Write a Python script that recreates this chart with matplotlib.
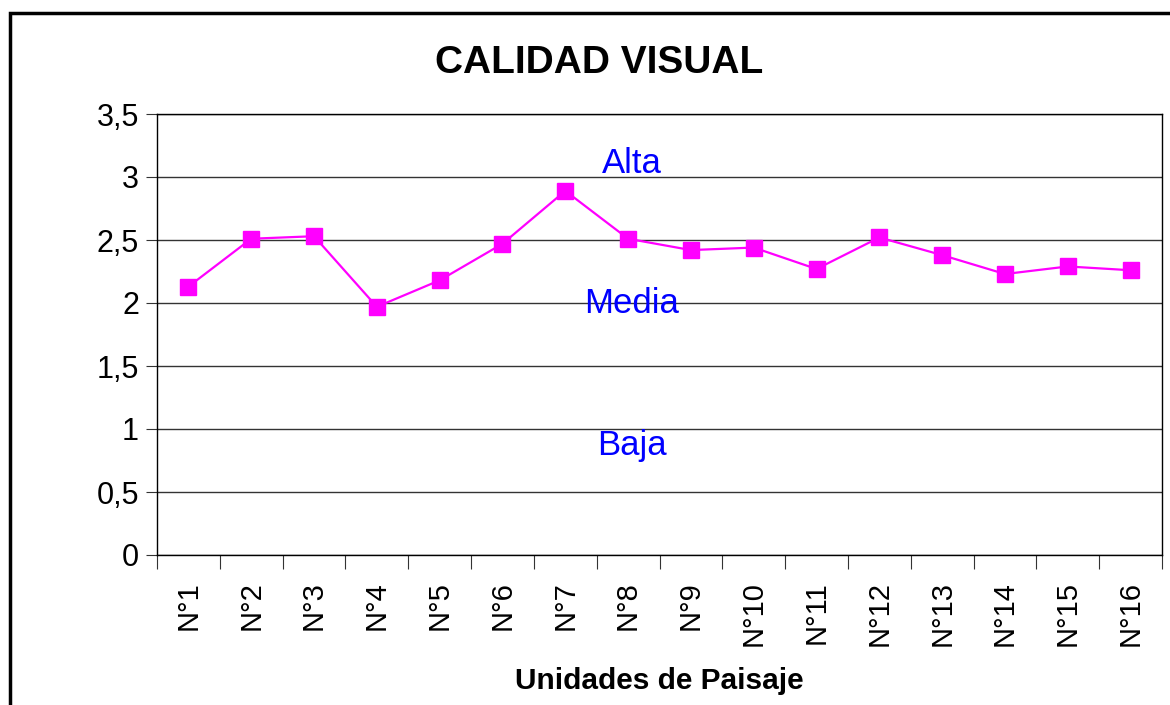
import matplotlib.pyplot as plt
from matplotlib.patches import Rectangle
from matplotlib.ticker import FuncFormatter

plt.rcParams['font.family'] = ['Liberation Sans', 'DejaVu Sans']

unidades = ['N°1', 'N°2', 'N°3', 'N°4', 'N°5', 'N°6', 'N°7', 'N°8',
            'N°9', 'N°10', 'N°11', 'N°12', 'N°13', 'N°14', 'N°15', 'N°16']
calidad = [2.13, 2.51, 2.53, 1.97, 2.18, 2.47, 2.89, 2.51,
           2.42, 2.44, 2.27, 2.52, 2.38, 2.23, 2.29, 2.26]
clases = ['Alta', 'Media', 'Baja']
clases_y = [3.03, 1.92, 0.79]

fig = plt.figure(figsize=(11.7, 7.05), dpi=100)
ax = fig.add_axes([157/1170, 1-555/705, (1162-157)/1170, (555-114)/705])

x = list(range(len(unidades)))
ax.plot(x, calidad, color='#FF00FF', lw=1.6, marker='s', markersize=11,
        markeredgecolor='#FF00FF', zorder=3)

ax.set_xlim(-0.5, len(unidades) - 0.5)
ax.set_ylim(0, 3.5)
ax.set_yticks([0, 0.5, 1, 1.5, 2, 2.5, 3, 3.5])
ax.yaxis.set_major_formatter(FuncFormatter(lambda v, p: ('%g' % v).replace('.', ',')))
ax.grid(axis='y', color='#333333', lw=1)
ax.set_axisbelow(True)

# category labels centred, ticks between categories
ax.set_xticks([i - 0.5 for i in range(len(unidades) + 1)])
ax.set_xticklabels([])
ax.set_xticks(x, minor=True)
ax.set_xticklabels(unidades, minor=True, rotation=90, fontsize=21)
ax.tick_params(axis='x', which='minor', length=0, pad=19)
ax.tick_params(axis='x', which='major', length=10, direction='out', color='#333333')
ax.tick_params(axis='y', length=8, labelsize=22, pad=5, color='#333333')

for s in ax.spines.values():
    s.set_color('black')
    s.set_linewidth(1)

for t, yv in zip(clases, clases_y):
    ax.text(7.06, yv, t, color='#0000FF', fontsize=25, ha='center', va='baseline')

fig.text(599/1170, 1-63/705, 'CALIDAD VISUAL', fontsize=28, fontweight='bold',
         ha='center', va='center')
fig.text(659/1170, 1-681/705, 'Unidades de Paisaje', fontsize=21.5, fontweight='bold',
         ha='center', va='center')

# outer chart border (cut off at right/bottom)
fig.patches.append(Rectangle((10/1170, -0.1), 1.2, 0.1 + 1 - 13/705,
                             transform=fig.transFigure, fill=False,
                             edgecolor='black', lw=2.5))

fig.savefig('out.png', dpi=100)
